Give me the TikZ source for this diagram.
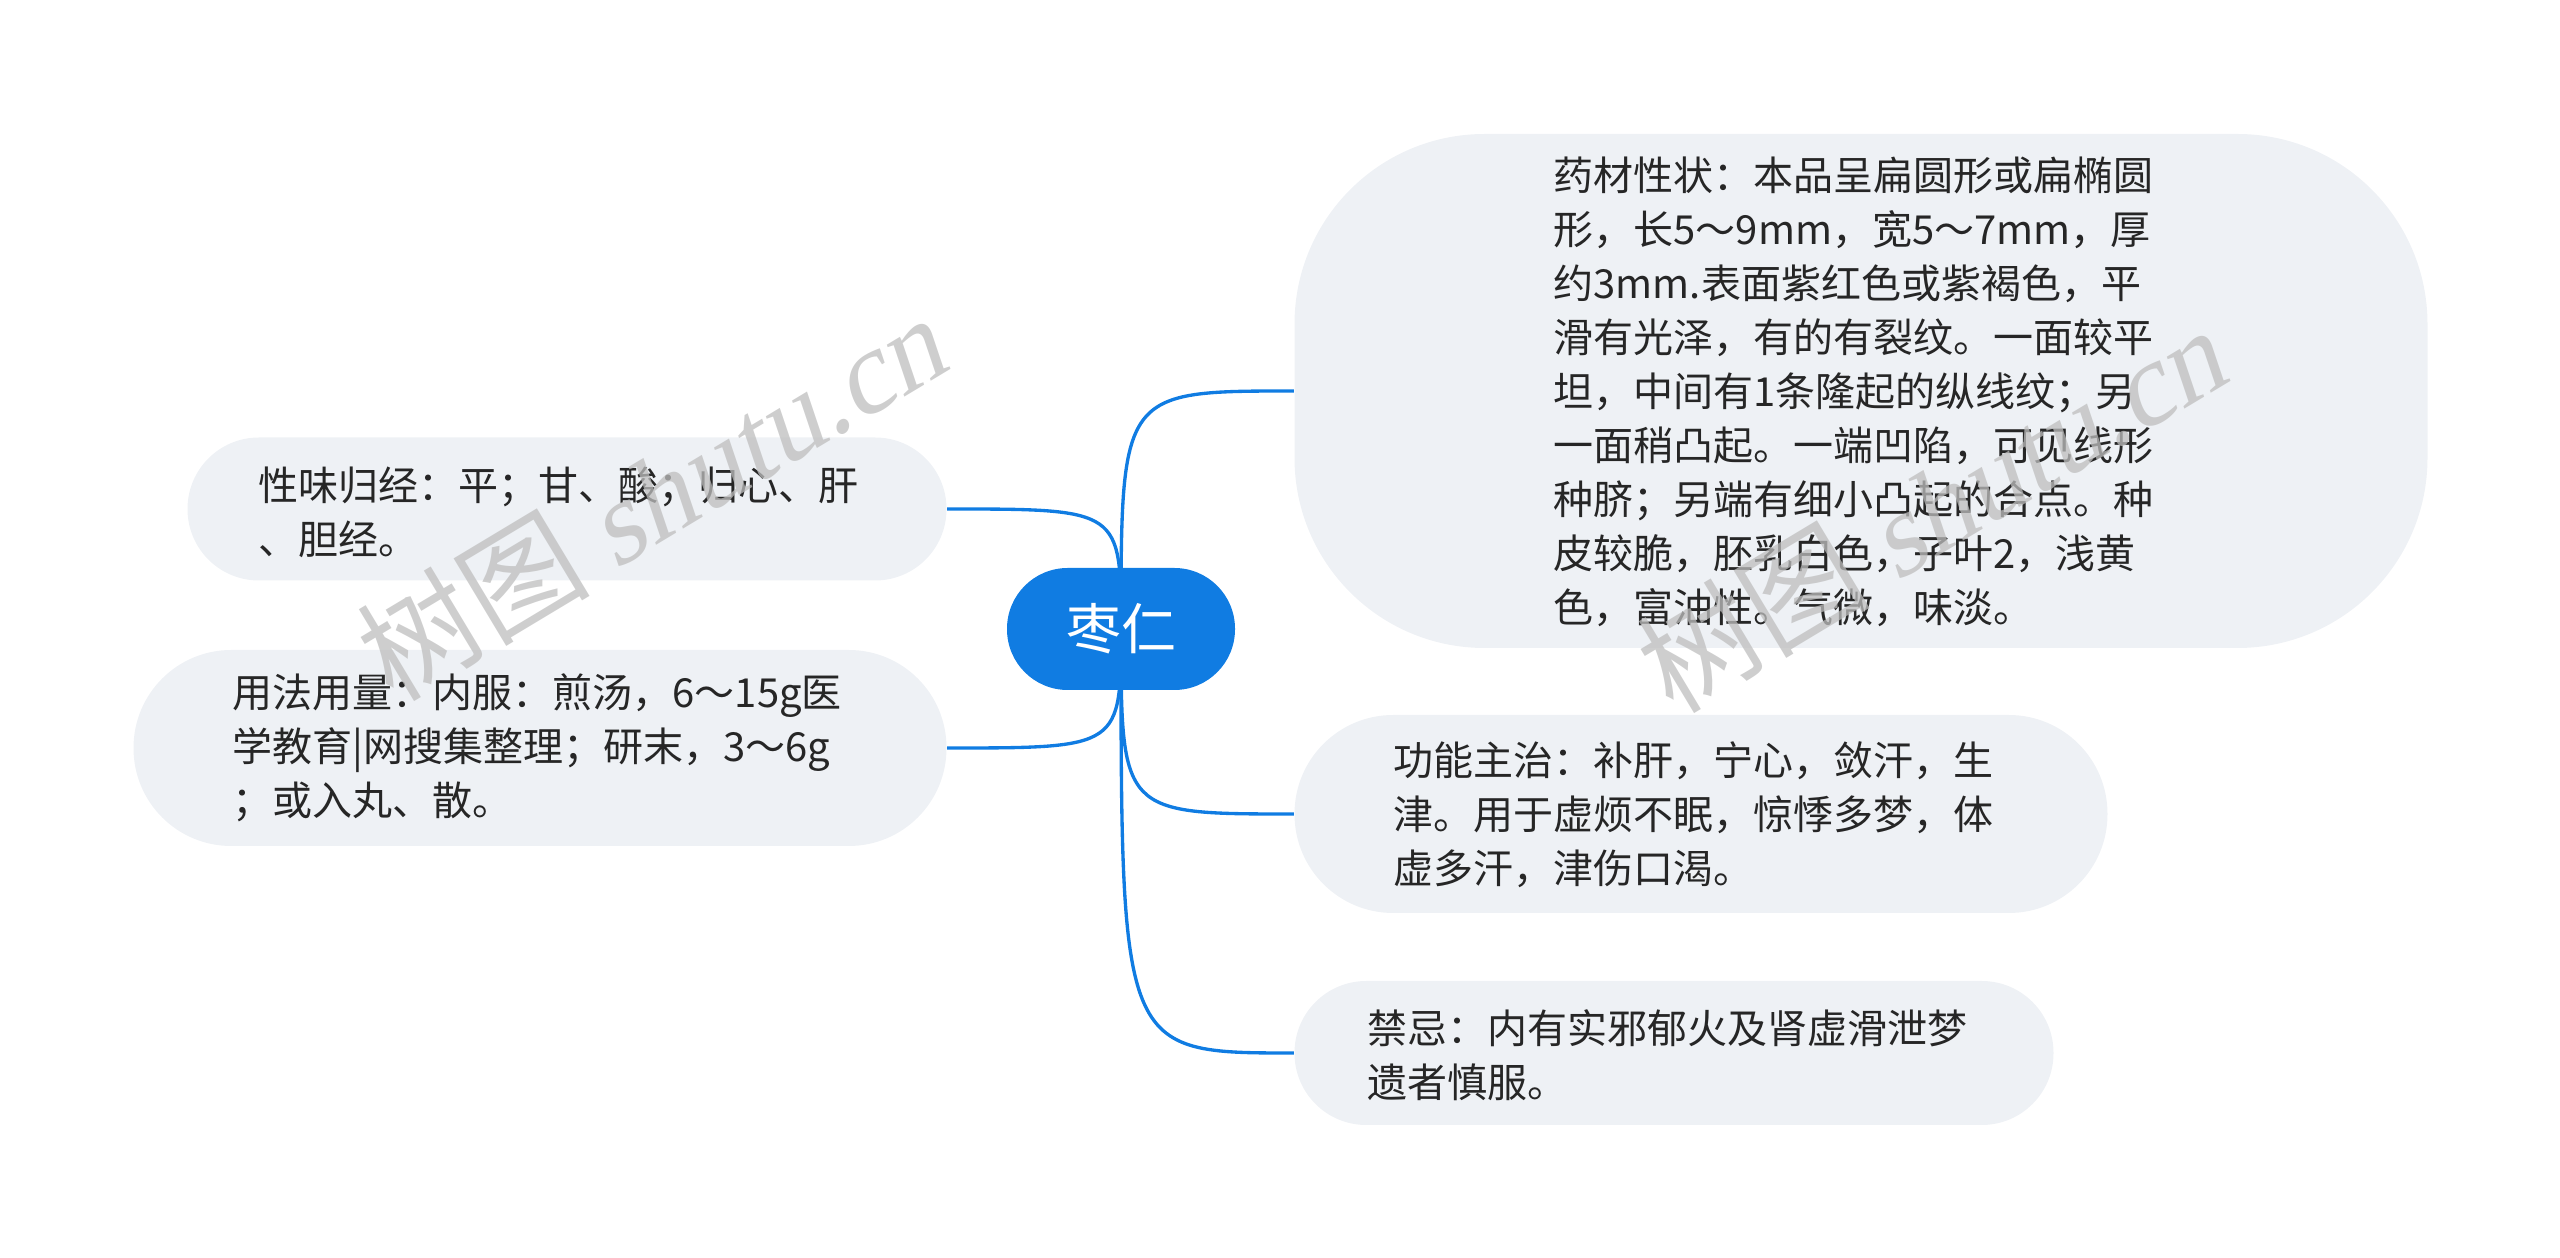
\documentclass[tikz,border=0pt]{standalone}
\usepackage{fontspec}
\setmainfont{Noto Sans CJK SC}
\newfontfamily\cjkfont{Noto Sans CJK SC}
\newfontfamily\wmserif{Liberation Serif}[FakeSlant=0.22]
\definecolor{mainblue}{RGB}{16,124,226}
\definecolor{boxfill}{RGB}{238,241,245}
\definecolor{txtcol}{RGB}{38,38,38}
\definecolor{wmgray}{RGB}{190,190,190}
\begin{document}
\begin{tikzpicture}[x=0.3pt,y=-0.3pt,
  topic/.style={rectangle, fill=boxfill, draw=none, inner sep=0pt},
  topictext/.style={text=txtcol, align=left, inner sep=0pt, anchor=west,
    font=\fontsize{12}{16.2}\selectfont},
  branch/.style={draw=mainblue, line width=1pt},
  wmark/.style={text=wmgray, opacity=0.75, inner sep=0pt,
    font=\fontsize{35}{37}\selectfont}]
\useasboundingbox (0,0) rectangle (2560,1258);

% positions of nodes
\coordinate (croot) at (1121,629);
\coordinate (ctr) at (1861,391);
\coordinate (cl1) at (567,509);
\coordinate (cl2) at (540,748);
\coordinate (cr2) at (1701,814);
\coordinate (cr3) at (1674,1053);

% boxes
\node[topic, minimum width=339.9pt, minimum height=154.2pt, rounded corners=57pt] (btr) at (ctr) {};
\node[topic, minimum width=227.7pt, minimum height=42.9pt, rounded corners=21.4pt] (bl1) at (cl1) {};
\node[topic, minimum width=243.9pt, minimum height=58.8pt, rounded corners=29.3pt] (bl2) at (cl2) {};
\node[topic, minimum width=243.9pt, minimum height=59.4pt, rounded corners=29.6pt] (br2) at (cr2) {};
\node[topic, minimum width=227.7pt, minimum height=43.2pt, rounded corners=21.5pt] (br3) at (cr3) {};

% connectors
\draw[branch] (croot) .. controls (croot |- btr.west) .. (btr.west);
\draw[branch] (croot) .. controls (croot |- bl1.east) .. (bl1.east);
\draw[branch] (croot) .. controls (croot |- bl2.east) .. (bl2.east);
\draw[branch] (croot) .. controls (croot |- br2.west) .. (br2.west);
\draw[branch] (croot) .. controls (croot |- br3.west) .. (br3.west);

% root
\node[rectangle, fill=mainblue, draw=none, inner sep=0pt, minimum width=68.4pt,
  minimum height=36.6pt, rounded corners=18.2pt, text=white,
  font=\fontsize{16.5}{18}\selectfont] (root) at (croot) {枣仁};

% texts
\node[topictext] (ttr) at (1553,392) {药材性状：本品呈扁圆形或扁椭圆\\形，长5～9mm，宽5～7mm，厚\\约3mm.表面紫红色或紫褐色，平\\滑有光泽，有的有裂纹。一面较平\\坦，中间有1条隆起的纵线纹；另\\一面稍凸起。一端凹陷，可见线形\\种脐；另端有细小凸起的合点。种\\皮较脆，胚乳白色，子叶2，浅黄\\色，富油性。气微，味淡。};
\node[topictext] (tl1) at (258,512) {性味归经：平；甘、酸；归心、肝\\、胆经。};
\node[topictext] (tl2) at (232,748) {用法用量：内服：煎汤，6～15g医\\学教育|网搜集整理；研末，3～6g\\；或入丸、散。};
\node[topictext] (tr2) at (1393,815) {功能主治：补肝，宁心，敛汗，生\\津。用于虚烦不眠，惊悸多梦，体\\虚多汗，津伤口渴。};
\node[topictext] (tr3) at (1367,1055) {禁忌：内有实邪郁火及肾虚滑泄梦\\遗者慎服。};

% watermarks
\node[wmark, rotate=31] (wm1) at (650,498) {{\cjkfont 树图} {\wmserif shutu.cn}};
\node[wmark, rotate=31] (wm2) at (1930,510) {{\cjkfont 树图} {\wmserif shutu.cn}};
\end{tikzpicture}
\end{document}
